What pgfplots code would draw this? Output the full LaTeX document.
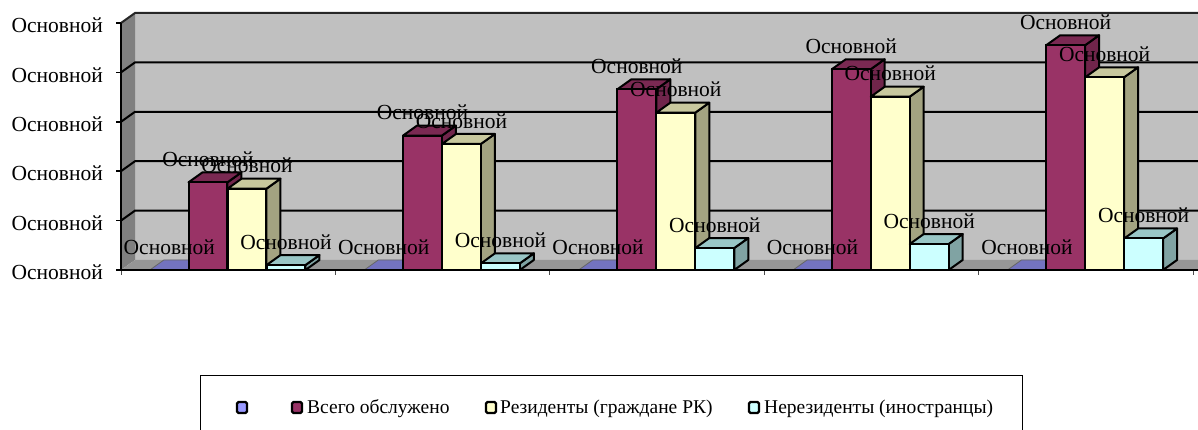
\documentclass[border=0pt]{standalone}
\usepackage{fontspec}
\setmainfont{Liberation Serif}
\usepackage{pgfplots}
\usepackage{pgfplotstable}
\pgfplotsset{compat=1.18}
\definecolor{wallback}{HTML}{C0C0C0}
\definecolor{wallleft}{HTML}{808080}
\definecolor{wallfloor}{HTML}{969696}
\definecolor{bluef}{HTML}{9999FF}
\definecolor{bluet}{HTML}{7373BF}
\definecolor{redf}{HTML}{993366}
\definecolor{redt}{HTML}{7A2952}
\definecolor{reds}{HTML}{70254B}
\definecolor{yelf}{HTML}{FFFFCC}
\definecolor{yelt}{HTML}{C8C89E}
\definecolor{yels}{HTML}{A3A381}
\definecolor{cyaf}{HTML}{CCFFFF}
\definecolor{cyat}{HTML}{99C6C6}
\definecolor{cyas}{HTML}{80A3A3}
\pgfplotstableread{
x y
0.2253 0
1.2253 0
2.2253 0
3.2253 0
4.2253 0
}\tblue
\pgfplotstableread{
x y
0.4058 1.775
1.4058 2.72
2.4058 3.658
3.4058 4.063
4.4058 4.549
}\tred
\pgfplotstableread{
x y
0.5877 1.646
1.5877 2.551
2.5877 3.185
3.5877 3.508
4.5877 3.901
}\tyel
\pgfplotstableread{
x y
0.7696 0.10
1.7696 0.135
2.7696 0.445
3.7696 0.526
4.7696 0.638
}\tcya
\newcommand{\barextras}[4]{%
  \pgfmathsetmacro{\xl}{#1-0.0907}%
  \pgfmathsetmacro{\xr}{#1+0.0907}%
  \pgfmathsetmacro{\xlb}{#1-0.0907+0.0653}%
  \pgfmathsetmacro{\xrb}{#1+0.0907+0.0653}%
  \pgfmathsetmacro{\vb}{#2+0.2024}%
  \addplot[fill=#4,draw=black,line width=2pt,line join=round] coordinates {(\xr,0) (\xrb,0.2024) (\xrb,\vb) (\xr,#2)} --cycle;
  \addplot[fill=#3,draw=black,line width=2pt,line join=round] coordinates {(\xl,#2) (\xr,#2) (\xrb,\vb) (\xlb,\vb)} --cycle;
}
\newcommand{\labelseries}[1]{%
  \addplot[only marks,mark size=0pt,draw=none,
    nodes near coords={Основной},
    every node near coord/.style={anchor=center,yshift=23pt,font=\fontsize{21.5}{21.5}\selectfont,inner sep=0pt,text=black}]
    table[x=x,y=y] {#1};
}
\begin{document}
\begin{tikzpicture}[x=1pt,y=1pt]
\path[use as bounding box,clip] (0,0) rectangle (1198,430);
\begin{axis}[
  at={(121pt,160pt)},anchor=south west,
  scale only axis,width=1077pt,height=247pt,
  xmin=0,xmax=5.0233,ymin=0,ymax=5,
  clip=false,axis on top=true,
  axis x line*=bottom,axis y line*=left,
  axis line style={-,line width=2pt,black},
  xtick={0,1,2,3,4,5},xticklabels={},
  ytick={0,1,2,3,4,5},
  yticklabels={Основной,Основной,Основной,Основной,Основной,Основной},
  tick align=outside,major tick length=5pt,
  y tick style={black,line width=1.6pt},
  x tick style={black!70,line width=0.8pt},
  yticklabel style={font=\fontsize{21.5}{21.5}\selectfont,inner sep=0pt,xshift=-13pt,yshift=-2.5pt},
]
% walls
\addplot[fill=wallback,draw=none] coordinates {(0.0653,0.2024) (5.03,0.2024) (5.03,5.2024) (0.0653,5.2024)} --cycle;
\addplot[fill=wallleft,draw=none] coordinates {(0,0) (0.0653,0.2024) (0.0653,5.2024) (0,5)} --cycle;
\addplot[fill=wallfloor,draw=none] coordinates {(0,0) (0.0653,0.2024) (5.03,0.2024) (5.03,0)} --cycle;
% gridlines
\addplot[black,line width=2pt] coordinates {(0,1) (0.0653,1.2024) (5.03,1.2024)};
\addplot[black,line width=2pt] coordinates {(0,2) (0.0653,2.2024) (5.03,2.2024)};
\addplot[black,line width=2pt] coordinates {(0,3) (0.0653,3.2024) (5.03,3.2024)};
\addplot[black,line width=2pt] coordinates {(0,4) (0.0653,4.2024) (5.03,4.2024)};
\addplot[black!85,line width=2pt] coordinates {(0,5) (0.0653,5.2024) (5.03,5.2024)};
% blue series (zero height)
\addplot[fill=bluet,draw=black!60,line width=0.8pt] coordinates {(0.1346,0) (0.3160,0) (0.3813,0.2024) (0.1999,0.2024)} --cycle;
\addplot[fill=bluet,draw=black!60,line width=0.8pt] coordinates {(1.1346,0) (1.3160,0) (1.3813,0.2024) (1.1999,0.2024)} --cycle;
\addplot[fill=bluet,draw=black!60,line width=0.8pt] coordinates {(2.1346,0) (2.3160,0) (2.3813,0.2024) (2.1999,0.2024)} --cycle;
\addplot[fill=bluet,draw=black!60,line width=0.8pt] coordinates {(3.1346,0) (3.3160,0) (3.3813,0.2024) (3.1999,0.2024)} --cycle;
\addplot[fill=bluet,draw=black!60,line width=0.8pt] coordinates {(4.1346,0) (4.3160,0) (4.3813,0.2024) (4.1999,0.2024)} --cycle;
\barextras{0.4058}{1.775}{redt}{reds}
\barextras{1.4058}{2.72}{redt}{reds}
\barextras{2.4058}{3.658}{redt}{reds}
\barextras{3.4058}{4.063}{redt}{reds}
\barextras{4.4058}{4.549}{redt}{reds}
\addplot[ybar,bar shift=0pt,bar width=38.9pt,fill=redf,draw=black,line width=2pt] table[x=x,y=y] {\tred};
\barextras{0.5877}{1.646}{yelt}{yels}
\barextras{1.5877}{2.551}{yelt}{yels}
\barextras{2.5877}{3.185}{yelt}{yels}
\barextras{3.5877}{3.508}{yelt}{yels}
\barextras{4.5877}{3.901}{yelt}{yels}
\addplot[ybar,bar shift=0pt,bar width=38.9pt,fill=yelf,draw=black,line width=2pt] table[x=x,y=y] {\tyel};
\barextras{0.7696}{0.10}{cyat}{cyas}
\barextras{1.7696}{0.135}{cyat}{cyas}
\barextras{2.7696}{0.445}{cyat}{cyas}
\barextras{3.7696}{0.526}{cyat}{cyas}
\barextras{4.7696}{0.638}{cyat}{cyas}
\addplot[ybar,bar shift=0pt,bar width=38.9pt,fill=cyaf,draw=black,line width=2pt] table[x=x,y=y] {\tcya};
% data labels
\labelseries{\tblue}
\labelseries{\tred}
\labelseries{\tyel}
\labelseries{\tcya}
\end{axis}
% legend
\draw[black,line width=0.8pt] (200,-2) -- (200,55) -- (1022,55) -- (1022,-2);
\foreach \xx/\cc in {237/bluef,292/redf,486/yelf,749/cyaf}
  \draw[black,line width=2.2pt,rounded corners=1.5pt,fill=\cc] (\xx,17) rectangle ++(10,11);
\node[anchor=base west,inner sep=0pt,font=\fontsize{19.5}{19.5}\selectfont] at (307,16) {Всего обслужено};
\node[anchor=base west,inner sep=0pt,font=\fontsize{19.5}{19.5}\selectfont] at (500,16) {Резиденты (граждане РК)};
\node[anchor=base west,inner sep=0pt,font=\fontsize{19.5}{19.5}\selectfont] at (764,16) {Нерезиденты (иностранцы)};
\end{tikzpicture}
\end{document}
